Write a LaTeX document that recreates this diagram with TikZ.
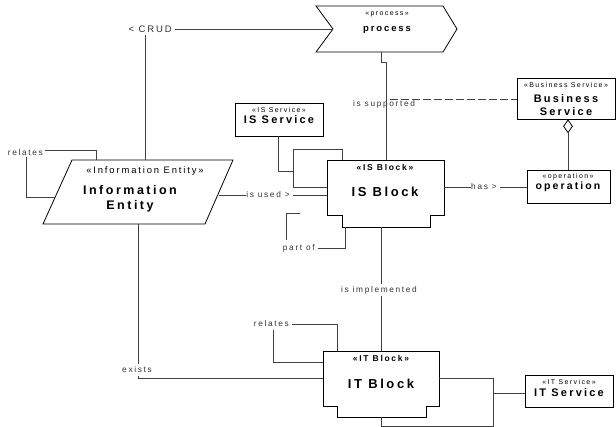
\documentclass[tikz,border=0pt]{standalone}
\usepackage{fontspec}
\setmainfont{Liberation Sans}[LetterSpace=20]
\usetikzlibrary{calc, shapes.geometric}

\begin{document}
\begin{tikzpicture}[
    x=1pt, y=-1pt, % pixel grid, y axis pointing down
    box/.style={draw, line width=0.8pt, fill=white, inner sep=0pt}, % class boxes
    link/.style={draw=black!75, line width=0.8pt}, % associations
    stereo/.style={font=\fontsize{7}{8}\selectfont, inner sep=0pt},
    bstereo/.style={font=\fontsize{8.5}{9}\selectfont\bfseries, inner sep=0pt},
    title/.style={font=\fontsize{10.5}{12}\selectfont\bfseries, inner sep=0pt},
    bigtitle/.style={font=\fontsize{13}{14}\selectfont\bfseries, inner sep=0pt},
    lbl/.style={font=\fontsize{8.3}{9}\selectfont, inner sep=0pt, text=black!80}
]
\useasboundingbox (0,0) rectangle (616,427);

% process (chevron)
\coordinate (procnotch) at (333,29);
\coordinate (procbottom) at (381,52);
\draw[box] (316,6) -- (443,6) -- (457,29) -- (443,52) -- (316,52) -- (procnotch) -- cycle;
\node[stereo] (procst) at (387,14) {«process»};
\node[title, font=\fontsize{9.5}{11}\selectfont\bfseries] (procname) at (387,30) {process};

% IS Block
\coordinate (isbtop) at (386,160);
\coordinate (isbbot) at (381,227);
\draw[box] (327,160) -- (444,160) -- (444,215) -- (430,215) -- (430,227)
    -- (342,227) -- (342,215) -- (327,215) -- cycle;
\node[bstereo] (isbst) at (385,167) {«IS Block»};
\node[bigtitle] (isbname) at (385,192) {IS Block};

% IT Block
\coordinate (itbtop) at (381,351);
\coordinate (itbbot) at (381,417);
\draw[box] (323,351) -- (439,351) -- (439,406) -- (426,406) -- (426,417)
    -- (337,417) -- (337,406) -- (323,406) -- cycle;
\node[bstereo] (itbst) at (381,358) {«IT Block»};
\node[bigtitle] (itbname) at (381,384) {IT Block};

% Information Entity (parallelogram)
\coordinate (ietop) at (145,160);
\coordinate (iebot) at (138,224);
\draw[box] (72,160) -- (233,160) -- (205,224) -- (43,224) -- cycle;
\node[stereo, font=\fontsize{9.4}{10}\selectfont] (iest) at (145,171) {«Information Entity»};
\node[bigtitle, font=\fontsize{12.5}{15}\selectfont\bfseries, align=center] (iename) at (130,199)
    {Information\\Entity};

% rectangular classes
\node[box, minimum width=88pt, minimum height=33pt] (issrv) at (279,119.5) {};
\node[stereo] at (279,110) {«IS Service»};
\node[title, font=\fontsize{11}{12}\selectfont\bfseries] at (279,120) {IS Service};

\node[box, minimum width=98pt, minimum height=41pt] (bsrv) at (566,98.5) {};
\node[stereo] at (566,85) {«Business Service»};
\node[title, font=\fontsize{11}{13.5}\selectfont\bfseries, align=center] at (566,105) {Business\\Service};

\node[box, minimum width=83pt, minimum height=33pt] (oper) at (568.5,186.5) {};
\node[stereo] at (568,177) {«operation»};
\node[title] at (568,187) {operation};

\node[box, minimum width=88pt, minimum height=32pt] (itsrv) at (569,391) {};
\node[stereo] at (569,382) {«IT Service»};
\node[title, font=\fontsize{11}{12}\selectfont\bfseries] at (569,393) {IT Service};

% CRUD
\node[lbl, font=\fontsize{9.5}{10}\selectfont, anchor=east] (crud) at (172,29) {< CRUD};
\draw[link] (crud.east) ++(3,0) -- (procnotch);
\draw[link] (145,35) -- (ietop);

% relates (Information Entity)
\node[lbl, anchor=east] (relie) at (43,153) {relates};
\draw[link] (45,150) -- (96,150) -- (96,160);
\draw[link] (26,157) -- (26,197) -- (55,197);

% is used
\node[lbl] (used) at (268,195) {is used >};
\draw[link] (219,195) -- (used.west);
\draw[link] (used.east) ++(3,0) -- (327,195);

% IS Service / IS Block
\draw[link] (issrv.south -| 278,0) -- (278,171) -- (293,171);
\draw[link] (342,160) -- (342,149) -- (293,149) -- (293,187) -- (327,187);

% part of
\node[lbl, anchor=east] (partof) at (315,248) {part of};
\draw[link] (partof.east) ++(3,0) -- (345,248) -- (345,227);
\draw[link] (300,213) -- (286,213) -- (286,240);

% is supported
\node[lbl] (supp) at (384,104) {is supported};
\draw[link] (procbottom) -- (381,62) -- (386,62) -- (isbtop);
\draw[link, dash pattern=on 8pt off 3pt] (390,99) -- (bsrv.west |- 0,99);

% has
\node[lbl] (has) at (484,187) {has >};
\draw[link] (444,187) -- (has.west);
\draw[link] (has.east) ++(3,0) -- (oper.west |- 0,187);

% aggregation
\node[diamond, draw, line width=0.8pt, fill=white, inner sep=0pt, minimum width=9pt,
    minimum height=13pt, anchor=north] (agg) at (bsrv.south -| 568,0) {};
\draw[link] (agg.south) -- (oper.north -| agg.south);

% is implemented
\node[lbl] (impl) at (379,290) {is implemented};
\draw[link] (isbbot) -- (381,284);
\draw[link] (381,296) -- (itbtop);

% relates (IT Block)
\node[lbl, anchor=east] (relit) at (289,324) {relates};
\draw[link] (relit.east) ++(3,0) -- (337,324) -- (337,351);
\draw[link] (273,330) -- (273,362) -- (323,362);

% exists
\node[lbl] (exists) at (137,370) {exists};
\draw[link] (iebot) -- (138,364);
\draw[link] (138,376) -- (138,378) -- (323,378);

% IT Service
\draw[link] (439,378) -- (493,378) -- (493,426) -- (381,426) -- (itbbot);
\draw[link] (493,393) -- (itsrv.west |- 0,393);

\end{tikzpicture}
\end{document}
